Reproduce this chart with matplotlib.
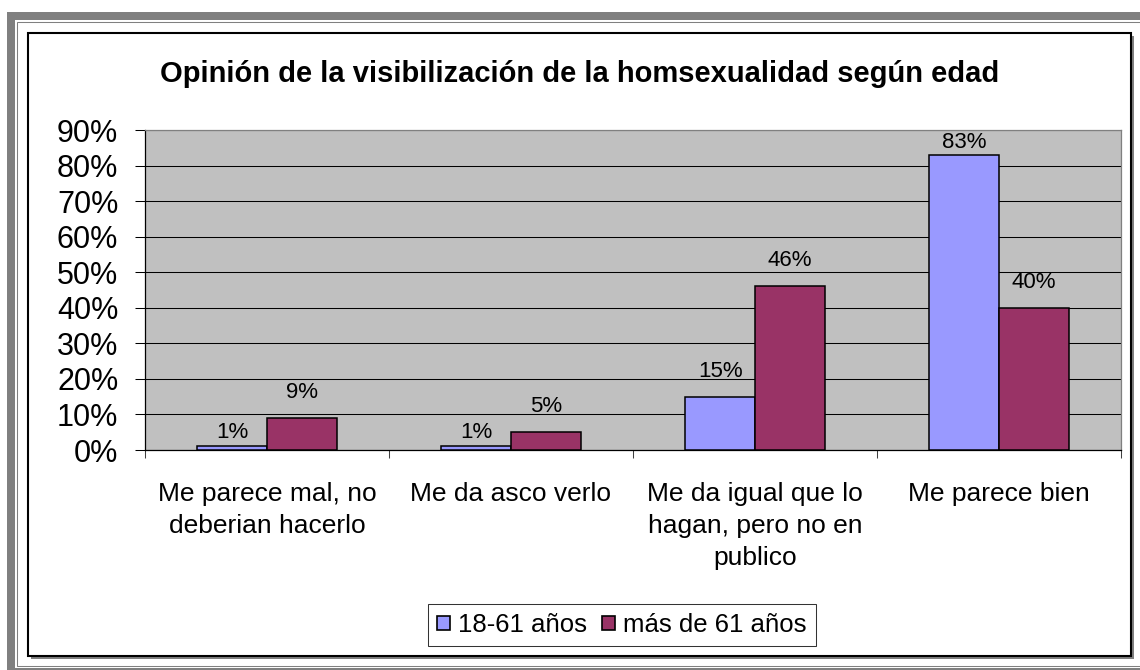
import numpy as np
import matplotlib
matplotlib.use("Agg")
import matplotlib.pyplot as plt
from matplotlib.patches import Rectangle, Patch

plt.rcParams['font.family'] = ['Liberation Sans', 'DejaVu Sans']

# Data
categories = ["Me parece mal, no\ndeberian hacerlo", "Me da asco verlo",
              "Me da igual que lo\nhagan, pero no en\npublico", "Me parece bien"]
young = [0.01, 0.01, 0.15, 0.83]
old = [0.09, 0.05, 0.46, 0.40]
young_labels = ["1%", "1%", "15%", "83%"]
old_labels = ["9%", "5%", "46%", "40%"]
series_names = ["18-61 años", "más de 61 años"]
title = "Opinión de la visibilización de la homsexualidad según edad"

W, H = 1140, 670
fig = plt.figure(figsize=(W / 100, H / 100), dpi=100)
fig.patch.set_facecolor('white')


def px_rect(x0, y0, x1, y1, **kw):
    # rectangle in pixel coords (origin top-left)
    r = Rectangle((x0 / W, 1 - y1 / H), (x1 - x0) / W, (y1 - y0) / H,
                  transform=fig.transFigure, zorder=-10, **kw)
    fig.patches.append(r)
    return r


# outer frame
px_rect(7, 12, 1200, 700, facecolor='#808080', edgecolor='none')
px_rect(15, 20, 1200, 668, facecolor='white', edgecolor='none')
px_rect(17, 22, 1200, 666, facecolor='white', edgecolor='#808080', linewidth=0.75)
# chart border with shadow
px_rect(31, 36, 1134, 659, facecolor='#808080', edgecolor='none')
px_rect(28, 33, 1131, 656, facecolor='white', edgecolor='black', linewidth=1.5)

# plot area
left, right, top, bottom = 145, 1121, 130, 450
ax = fig.add_axes([left / W, 1 - bottom / H, (right - left) / W, (bottom - top) / H])
ax.set_zorder(5)
ax.set_facecolor('#C0C0C0')

ymax = 0.9
x = np.arange(len(categories))
w = 1 / 3.5
ax.bar(x - w / 2, young, w, color='#9999FF', edgecolor='black', linewidth=1.1, zorder=3)
ax.bar(x + w / 2, old, w, color='#993366', edgecolor='black', linewidth=1.1, zorder=3)

# value labels: baseline ~20px above the bar, kept inside the plot area
per_px = ymax / (bottom - top)


def label_y(v):
    off = 8 if v < 0.02 else 20
    return min(v + off * per_px, ymax - 18 * per_px)


for xs, vals, labs in ((x - w / 2, young, young_labels), (x + w / 2, old, old_labels)):
    for xi, v, lab in zip(xs, vals, labs):
        ax.text(xi, label_y(v), lab, ha='center', va='baseline', fontsize=16, zorder=4)

ax.set_xlim(-0.5, len(categories) - 0.5)
ax.set_ylim(0, ymax)
yt = np.arange(0, 1.0, 0.1)
ax.set_yticks(yt)
ax.set_yticklabels([f"{round(t * 100)}%" for t in yt], fontsize=22)
ax.tick_params(axis='y', length=7.2, width=0.75, pad=12, color='black')

ax.set_xticks(x)
ax.set_xticklabels(categories, fontsize=19, linespacing=1.43)
ax.set_xticks(np.arange(len(categories) + 1) - 0.5, minor=True)
ax.tick_params(axis='x', which='major', length=0, pad=23)
ax.tick_params(axis='x', which='minor', length=6, width=0.75, color='#404040')

ax.grid(axis='y', color='black', linewidth=0.75, zorder=1)
ax.set_axisbelow(True)
ax.spines['left'].set_color('black')
ax.spines['bottom'].set_color('black')
ax.spines['top'].set_color('#808080')
ax.spines['right'].set_color('#808080')
for s in ax.spines.values():
    s.set_linewidth(0.9)

fig.text(580 / W, 1 - 82 / H, title, ha='center', va='baseline',
         fontsize=21, fontweight='bold')

handles = [Patch(facecolor='#9999FF', edgecolor='black', linewidth=1.2),
           Patch(facecolor='#993366', edgecolor='black', linewidth=1.2)]
leg = fig.legend(handles, series_names, loc='center', ncol=2,
                 bbox_to_anchor=(622 / W, 1 - 625 / H), fontsize=18.5,
                 frameon=True, fancybox=False, shadow=False,
                 handlelength=0.5, handleheight=0.5, handletextpad=0.3,
                 columnspacing=0.6, borderpad=0.35)
leg.get_frame().set_edgecolor('black')
leg.get_frame().set_linewidth(0.75)

fig.savefig('out.png', dpi=100)
